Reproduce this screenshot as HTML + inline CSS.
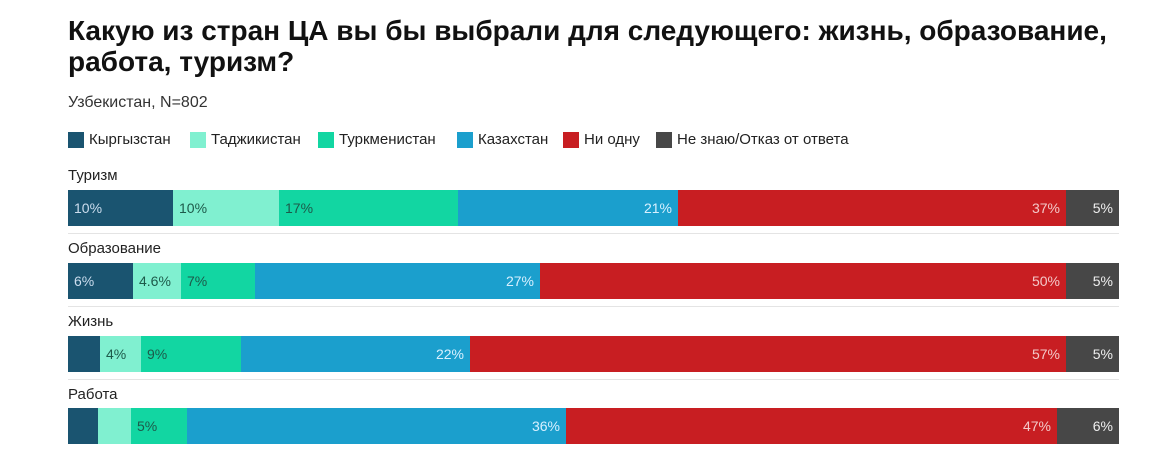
<!DOCTYPE html>
<html><head><meta charset="utf-8"><style>
body{margin:0;width:1155px;height:459px;background:#fff;font-family:"Liberation Sans",sans-serif;position:relative;overflow:hidden}
.a{position:absolute;white-space:nowrap}
h1{position:absolute;left:68px;top:15px;margin:0;font-size:28px;line-height:31px;font-weight:bold;color:#111;white-space:nowrap}
.sub{left:68px;top:94px;font-size:16px;color:#333}
.leg{top:131px;font-size:15px;color:#222;display:flex;align-items:center}
.sw{display:inline-block;width:16px;height:16px;margin-right:5px}
.lab{left:68px;font-size:15px;color:#222}
.bar{position:absolute;left:68px;height:36px;width:1051px;display:flex}
.bar div{height:100%;position:relative;font-size:14px;line-height:36px}
.sep{position:absolute;left:68px;width:1051px;height:1px;background:#e4e4e4}
.k{background:#1a5470;color:#cde}.t{background:#80f0d0;color:#1d5a4a}.m{background:#12d6a2;color:#1d5a4a}.z{background:#1b9fcd;color:#d8f0ff}.r{background:#c81e22;color:#f3c9c9}.d{background:#474747;color:#eee}
.L{padding-left:6px;box-sizing:border-box}.R{text-align:right;padding-right:6px;box-sizing:border-box}
</style></head><body>
<h1>Какую из стран ЦА вы бы выбрали для следующего: жизнь, образование,<br>работа, туризм?</h1>
<div class="a sub">Узбекистан, N=802</div>
<div class="a leg" style="left:68px"><span class="sw k"></span>Кыргызстан</div>
<div class="a leg" style="left:190px"><span class="sw t"></span>Таджикистан</div>
<div class="a leg" style="left:318px"><span class="sw m"></span>Туркменистан</div>
<div class="a leg" style="left:457px"><span class="sw z"></span>Казахстан</div>
<div class="a leg" style="left:563px"><span class="sw r"></span>Ни одну</div>
<div class="a leg" style="left:656px"><span class="sw d"></span>Не знаю/Отказ от ответа</div>

<div class="a lab" style="top:167px">Туризм</div>
<div class="bar" style="top:190px"><div class="k L" style="width:105px">10%</div><div class="t L" style="width:106px">10%</div><div class="m L" style="width:179px">17%</div><div class="z R" style="width:220px">21%</div><div class="r R" style="width:388px">37%</div><div class="d R" style="width:53px">5%</div></div>
<div class="sep" style="top:233px"></div>

<div class="a lab" style="top:240px">Образование</div>
<div class="bar" style="top:263px"><div class="k L" style="width:65px">6%</div><div class="t L" style="width:48px">4.6%</div><div class="m L" style="width:74px">7%</div><div class="z R" style="width:285px">27%</div><div class="r R" style="width:526px">50%</div><div class="d R" style="width:53px">5%</div></div>
<div class="sep" style="top:306px"></div>

<div class="a lab" style="top:313px">Жизнь</div>
<div class="bar" style="top:336px"><div class="k L" style="width:32px"></div><div class="t L" style="width:41px">4%</div><div class="m L" style="width:100px">9%</div><div class="z R" style="width:229px">22%</div><div class="r R" style="width:596px">57%</div><div class="d R" style="width:53px">5%</div></div>
<div class="sep" style="top:379px"></div>

<div class="a lab" style="top:386px">Работа</div>
<div class="bar" style="top:408px"><div class="k L" style="width:30px"></div><div class="t L" style="width:33px"></div><div class="m L" style="width:56px">5%</div><div class="z R" style="width:379px">36%</div><div class="r R" style="width:491px">47%</div><div class="d R" style="width:62px">6%</div></div>
</body></html>
